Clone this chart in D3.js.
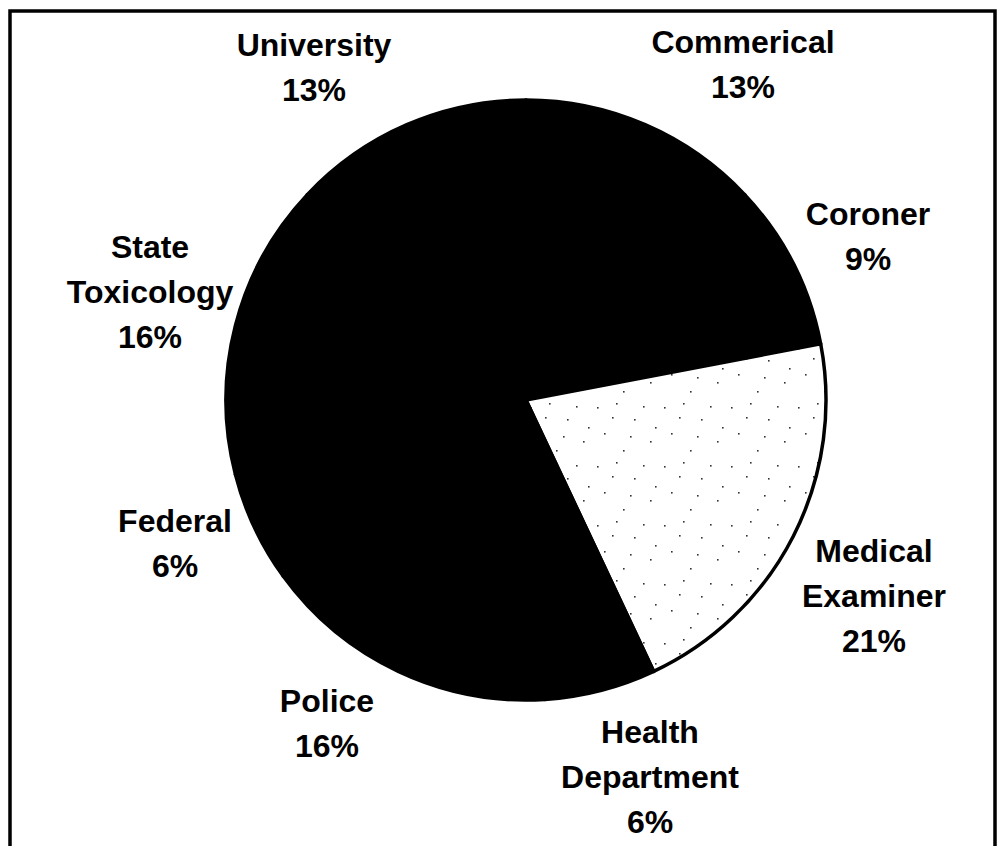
<!DOCTYPE html>
<html>
<head>
<meta charset="utf-8">
<script src="https://cdn.jsdelivr.net/npm/d3@7/dist/d3.min.js"></script>
<style>
  body { margin: 0; background: #fff; }
  svg text { font-family: "Liberation Sans", Arial, Helvetica, sans-serif; font-weight: bold; }
</style>
</head>
<body>
<div id="chart"></div>
<script>
// slice order runs clockwise from 12 o'clock
const categories = ["Commerical", "Coroner", "Medical Examiner", "Health Department",
                    "Police", "Federal", "State Toxicology", "University"];
const shares = [13, 9, 21, 6, 16, 6, 16, 13];
// label text lines (percent line is added from shares)
const labelLines = [["Commerical"], ["Coroner"], ["Medical", "Examiner"], ["Health", "Department"],
                    ["Police"], ["Federal"], ["State", "Toxicology"], ["University"]];

const width = 997, height = 846;
const cx = 526, cy = 400, radius = 300;

// where each label block is centred (x) and where its first baseline sits (y)
const labelAt = {
    "Commerical": [743, 53],
    "Coroner": [868, 225],
    "Medical Examiner": [874, 562],
    "Health Department": [650, 743],
    "Police": [327, 712],
    "Federal": [175, 532],
    "State Toxicology": [150, 258],
    "University": [314, 56]
};
const lineGap = 45;

const svg = d3.select("#chart")
    .append("svg")
    .attr("width", width)
    .attr("height", height);

// sparse speckle for the light slice
const defs = svg.append("defs");
const pat = defs.append("pattern")
    .attr("id", "speckle")
    .attr("patternUnits", "userSpaceOnUse")
    .attr("width", 67)
    .attr("height", 59);
pat.append("rect").attr("width", 67).attr("height", 59).attr("fill", "#fff");
[[4, 7], [23, 3], [41, 19], [11, 33], [57, 41], [30, 50], [50, 6], [19, 17], [62, 27], [37, 36]].forEach(p => {
    pat.append("rect")
        .attr("x", p[0]).attr("y", p[1])
        .attr("width", 1.6).attr("height", 1.6)
        .attr("fill", "#333");
});

// frame
svg.append("rect")
    .attr("x", 10)
    .attr("y", 11)
    .attr("width", 985)
    .attr("height", 860)
    .attr("fill", "none")
    .attr("stroke", "#000")
    .attr("stroke-width", 3.5);

const data = categories.map((c, i) => ({ name: c, value: shares[i], lines: labelLines[i] }));

const pie = d3.pie()
    .sort(null)
    .value(d => d.value);

const arc = d3.arc()
    .innerRadius(0)
    .outerRadius(radius);

const g = svg.append("g")
    .attr("transform", `translate(${cx},${cy})`);

g.selectAll("path")
    .data(pie(data))
    .enter()
    .append("path")
    .attr("d", arc)
    .attr("fill", d => d.data.name === "Medical Examiner" ? "url(#speckle)" : "#000")
    .attr("stroke", "#000")
    .attr("stroke-width", 3.5)
    .attr("stroke-linejoin", "round");

// labels
const labels = svg.selectAll("text.lbl")
    .data(data)
    .enter()
    .append("text")
    .attr("class", "lbl")
    .attr("text-anchor", "middle")
    .attr("font-size", 32)
    .attr("fill", "#000");

labels.each(function (d) {
    const t = d3.select(this);
    const pos = labelAt[d.name];
    const lines = d.lines.concat([d.value + "%"]);
    lines.forEach((ln, i) => {
        t.append("tspan")
            .attr("x", pos[0])
            .attr("y", pos[1] + i * lineGap)
            .text(ln);
    });
});
</script>
</body>
</html>
